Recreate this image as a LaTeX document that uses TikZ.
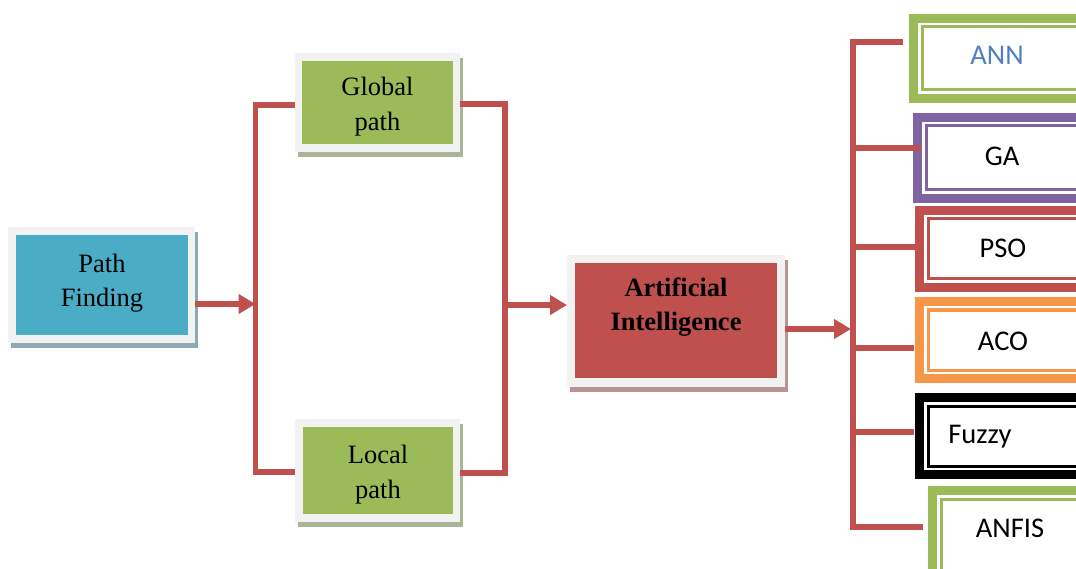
\documentclass[tikz,border=0pt]{standalone}
\usepackage{fontspec}
\setmainfont{Liberation Serif}
\newfontfamily\calfont{Carlito}
\usetikzlibrary{arrows.meta}
\definecolor{aired}{HTML}{C0504D}
\definecolor{pfblue}{HTML}{4BACC6}
\definecolor{ggreen}{HTML}{9BBB59}
\definecolor{framegray}{HTML}{F2F2F2}
\definecolor{pfshadow}{HTML}{8DA9B4}
\definecolor{gshadow}{HTML}{AAB598}
\definecolor{aishadow}{HTML}{BA9494}
\definecolor{gapurple}{HTML}{8064A2}
\definecolor{acoorange}{HTML}{F79646}
\definecolor{annblue}{HTML}{4F81BD}
\tikzset{
  frame/.style={fill=framegray, inner sep=0pt, outer sep=0pt},
  box/.style={inner sep=0pt, outer sep=0pt, align=center, font=\fontsize{26.5}{35}\selectfont},
  conn/.style={draw=aired, line width=5.5pt},
  arr/.style={conn, -{Triangle[length=17pt,width=19pt]}},
  algo/.style={font=\calfont\fontsize{28.5}{34}\selectfont, inner sep=0pt},
}
\newcommand\twolines[3]{\raisebox{#1}[\height][\depth]{\begin{tabular}{@{}c@{}}#2\\#3\end{tabular}}}
\newcommand\algobox[9]{%
  \draw[line width=9pt, draw=#2] ({#3+4.5},{#4+4.5}) rectangle (1110,{#5-4.5});
  \draw[line width=3pt, draw=#2] ({#3+13},{#4+13}) rectangle (1110,{#5-13});
  \node[algo, text=#9] (#1) at (#6,#7) {#8};
}
\begin{document}
\begin{tikzpicture}[x=1pt,y=-1pt]
\clip (0,0) rectangle (1076,569);
\fill[white] (0,0) rectangle (1076,569);

% shadows
\fill[pfshadow] (11,232) rectangle (198,348);
\fill[gshadow] (298,58) rectangle (463,157);
\fill[gshadow] (298,424) rectangle (463,527);
\fill[aishadow] (570,260) rectangle (788,392);

% frames
\node[frame, minimum width=187pt, minimum height=116pt] (pff) at (101.5,285) {};
\node[frame, minimum width=165pt, minimum height=99pt] (gpf) at (377.5,102.5) {};
\node[frame, minimum width=165pt, minimum height=103pt] (lpf) at (377.5,470.5) {};
\node[frame, minimum width=218pt, minimum height=132pt] (aif) at (676,321) {};

% coloured boxes
\node[box, fill=pfblue, minimum width=172pt, minimum height=100pt] (pf) at (102,285) {\twolines{2.5pt}{Path}{Finding}};
\node[box, fill=ggreen, minimum width=151pt, minimum height=83pt] (gp) at (377.5,102.5) {\twolines{-3.5pt}{Global}{path}};
\node[box, fill=ggreen, minimum width=150pt, minimum height=87pt] (lp) at (378,470.5) {\twolines{-3.5pt}{Local}{path}};
\node[box, fill=aired, minimum width=202pt, minimum height=115pt] (ai) at (676,320.5) {};
\node[box, font=\bfseries\fontsize{26.5}{34}\selectfont] (ait) at (676,307) {Artificial\\Intelligence};

% left connectors
\coordinate (lbt) at (255.5,105);
\coordinate (lbb) at (255.5,472);
\coordinate (lbm) at (255.5,304);
\draw[conn] (gpf.west|-lbt) -- (lbt) -- (lbb) -- (lpf.west|-lbb);
\draw[arr] (pff.east|-lbm) -- (lbm);

\coordinate (rbt) at (505,104);
\coordinate (rbb) at (505,473);
\coordinate (rbm) at (505,305);
\draw[conn] (gpf.east|-rbt) -- (rbt) -- (rbb) -- (lpf.east|-rbb);
\draw[arr] (rbm) -- (aif.west|-rbm);

% algorithm boxes
\algobox{ann}{ggreen}{909}{14}{103}{997}{55.5}{ANN}{annblue}
\algobox{ga}{gapurple}{913}{113}{203}{1002}{156}{GA}{black}
\algobox{pso}{aired}{915}{206}{292}{1003}{248}{PSO}{black}
\algobox{aco}{acoorange}{915}{297}{383}{1003}{341}{ACO}{black}
\algobox{fuzzy}{black}{915}{393}{479}{980}{437}{Fuzzy}{black}
\algobox{anfis}{ggreen}{928}{486}{585}{1010}{528}{ANFIS}{black}

% right connectors
\coordinate (annc) at (903,42);
\coordinate (busb) at (853,527);
\coordinate (anfisc) at (923,527);
\coordinate (gac) at (921,148);
\coordinate (psoc) at (915,247);
\coordinate (acoc) at (914,348);
\coordinate (fuzc) at (914,432);
\coordinate (aiarr) at (851,329);
\draw[conn] (annc) -| (busb) -- (anfisc);
\draw[conn] (busb|-gac) -- (gac);
\draw[conn] (busb|-psoc) -- (psoc);
\draw[conn] (busb|-acoc) -- (acoc);
\draw[conn] (busb|-fuzc) -- (fuzc);
\draw[arr] (aif.east|-aiarr) -- (aiarr);
\end{tikzpicture}
\end{document}
